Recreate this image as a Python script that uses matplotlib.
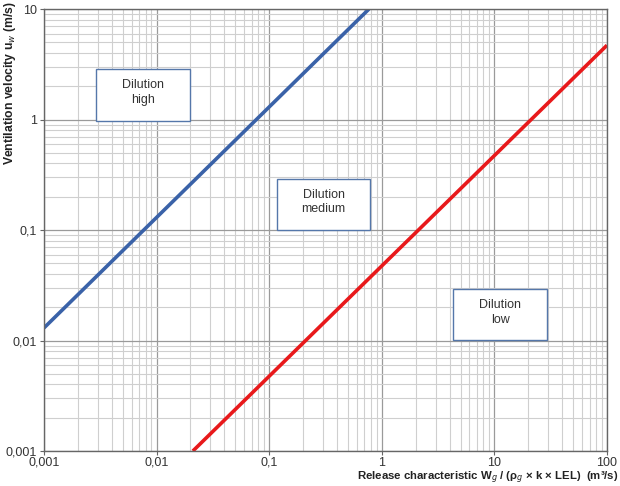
import matplotlib
matplotlib.use("Agg")
import matplotlib.pyplot as plt
from matplotlib.patches import Rectangle
from matplotlib.ticker import FixedLocator, FixedFormatter, LogLocator, NullFormatter

plt.rcParams['font.family'] = ['Liberation Sans', 'DejaVu Sans']

# Data
x_ticks = [0.001, 0.01, 0.1, 1, 10, 100]
x_labels = ["0,001", "0,01", "0,1", "1", "10", "100"]
y_ticks = [0.001, 0.01, 0.1, 1, 10]
y_labels = ["0,001", "0,01", "0,1", "1", "10"]

high_medium_x = [0.001, 0.77]
high_medium_y = [0.013, 10]
medium_low_x = [0.021, 100]
medium_low_y = [0.001, 4.7]

zone_labels = ["Dilution\nhigh", "Dilution\nmedium", "Dilution\nlow"]

fig = plt.figure(figsize=(6.2, 4.86), dpi=100)
ax = fig.add_axes([44/620, 1-451/486, 563/620, 442/486])
ax.set_xscale('log')
ax.set_yscale('log')
ax.set_xlim(0.001, 100)
ax.set_ylim(0.001, 10)

ax.xaxis.set_major_locator(FixedLocator(x_ticks))
ax.xaxis.set_major_formatter(FixedFormatter(x_labels))
ax.yaxis.set_major_locator(FixedLocator(y_ticks))
ax.yaxis.set_major_formatter(FixedFormatter(y_labels))
ax.xaxis.set_minor_locator(LogLocator(base=10, subs=range(2, 10), numticks=20))
ax.yaxis.set_minor_locator(LogLocator(base=10, subs=range(2, 10), numticks=20))
ax.xaxis.set_minor_formatter(NullFormatter())
ax.yaxis.set_minor_formatter(NullFormatter())

ax.grid(True, which='major', color='#9a9a9a', linewidth=0.9)
ax.grid(True, which='minor', color='#cfcfcf', linewidth=0.8)
ax.set_axisbelow(True)
ax.tick_params(which='minor', length=0)
ax.tick_params(which='major', length=3, width=0.8, color='#666666', labelsize=9, labelcolor='#333333', pad=2)
ax.tick_params(axis='x', which='major', pad=1)
for s in ax.spines.values():
    s.set_color('#666666')
    s.set_linewidth(1.0)

ax.plot(high_medium_x, high_medium_y, color='#3a62a8', linewidth=2.6, solid_capstyle='butt')
ax.plot(medium_low_x, medium_low_y, color='#e8191b', linewidth=2.6, solid_capstyle='butt')

boxes = [(0.0924, 0.7472, 0.1669, 0.1174),
         (0.4139, 0.5011, 0.1651, 0.1152),
         (0.7265, 0.2506, 0.1669, 0.1151)]
for (x0, y0, w, h), lab in zip(boxes, zone_labels):
    ax.add_patch(Rectangle((x0, y0), w, h, transform=ax.transAxes,
                           facecolor='white', edgecolor='#5577aa', linewidth=1.0, zorder=3))
    ax.text(x0 + w/2, y0 + h/2 + 0.005, lab, transform=ax.transAxes, ha='center', va='center',
            fontsize=9, color='#333333', zorder=4, linespacing=1.25)

fig.text(0.003, 0.998, "Ventilation velocity u$_w$ (m/s)", rotation=90, ha='left', va='top',
         fontsize=8.8, fontweight='bold', color='#222222')
fig.text(618/620, 0.001, "Release characteristic W$_g$ / (\u03c1$_g$ \u00d7 k \u00d7 LEL)  (m\u00b3/s)",
         ha='right', va='bottom', fontsize=8.2, fontweight='bold', color='#222222')

fig.savefig("out.png", dpi=100)
